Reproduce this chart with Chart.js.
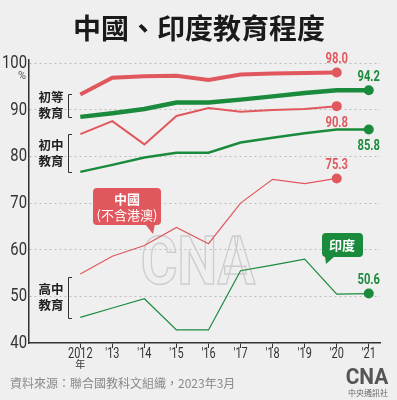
<!DOCTYPE html>
<html>
<head>
<meta charset="utf-8">
<script src="https://cdn.jsdelivr.net/npm/chart.js@4"></script>
<style>
  html, body { margin: 0; padding: 0; background: #efefef; }
  #wrap { width: 397px; height: 400px; }
</style>
</head>
<body>
<div id="wrap"><canvas id="edu-chart" width="397" height="400"></canvas></div>
<script>
// Data
const years = [2012, 2013, 2014, 2015, 2016, 2017, 2018, 2019, 2020, 2021];
const chinaPrimary = [93.3, 96.9, 97.2, 97.3, 96.4, 97.6, 97.8, 97.9, 98.0];
const chinaLower = [84.8, 87.6, 82.6, 88.7, 90.4, 89.6, 90.0, 90.2, 90.8];
const chinaUpper = [54.8, 58.6, 60.9, 64.8, 61.3, 70.0, 75.1, 74.2, 75.3];
const indiaPrimary = [88.5, 89.3, 90.2, 91.6, 91.6, 92.2, 92.9, 93.6, 94.2, 94.2];
const indiaLower = [76.7, 78.2, 79.8, 80.8, 80.8, 83.0, 84.0, 85.0, 85.8, 85.8];
const indiaUpper = [45.5, 47.5, 49.5, 42.8, 42.8, 55.5, 56.7, 58.0, 50.5, 50.6];
const yTicks = [40, 50, 60, 70, 80, 90, 100];

const RED = '#e0585d';
const GREEN = '#1a8a3c';
const SANS = '"Roboto", "Liberation Sans", sans-serif';
const CJK = '"Noto Sans CJK TC", "Noto Sans CJK SC", sans-serif';

function toPoints(vals) {
  return vals.map((v, i) => ({ x: years[i], y: v }));
}

function series(vals, color, width) {
  return {
    data: toPoints(vals),
    borderColor: color,
    backgroundColor: color,
    borderWidth: width,
    pointRadius: ctx => ctx.dataIndex === vals.length - 1 ? 5 : 0,
    pointHoverRadius: 0,
    pointBorderWidth: 0,
    tension: 0,
    fill: false
  };
}

// squeezed text, the reference uses a condensed face
function narrowText(c, text, x, y, sx) {
  c.save();
  c.translate(x, y);
  c.scale(sx, 1);
  c.fillText(text, 0, 0);
  c.restore();
}

// [datasetIndex, dy, colour]
const endLabels = [
  [0, -13, RED], [1, 17, RED], [2, -13, RED],
  [3, -13, GREEN], [4, 17, GREEN], [5, -13, GREEN]
];

const decorPlugin = {
  id: 'decor',
  beforeDatasetsDraw(chart) {
    const c = chart.ctx;
    // centre watermark
    c.save();
    c.font = 'bold 66px ' + SANS;
    c.strokeStyle = '#cdcdcd';
    c.lineWidth = 1.5;
    c.textAlign = 'center';
    c.textBaseline = 'middle';
    c.translate(198, 267);
    c.scale(0.85, 1);
    c.strokeText('CNA', 0, 0);
    c.restore();
  },
  afterDraw(chart) {
    const c = chart.ctx;
    const xs = chart.scales.x;
    const ys = chart.scales.y;
    c.save();
    // title
    c.fillStyle = '#1a1a1a';
    c.font = 'bold 28px ' + CJK;
    c.textAlign = 'center';
    c.textBaseline = 'middle';
    c.fillText('中國、印度教育程度', 199, 28);

    // y tick labels
    c.textAlign = 'right';
    c.fillStyle = '#333';
    c.font = '19px ' + SANS;
    yTicks.forEach(v => narrowText(c, String(v), 27, ys.getPixelForValue(v), 0.78));
    c.textAlign = 'center';
    c.font = '11px ' + SANS;
    c.fillStyle = '#555';
    c.fillText('%', 22, 76);

    // x tick labels
    c.fillStyle = '#333';
    years.forEach(v => {
      const px = xs.getPixelForValue(v);
      c.font = '14px ' + SANS;
      narrowText(c, v === 2012 ? '2012' : "'" + String(v).slice(2), px, 354, 0.78);
      if (v === 2012) {
        c.font = '10px ' + CJK;
        c.fillText('年', px, 364);
      }
    });

    // bracket labels
    const groups = [
      ['初等', '教育', 94, 117],
      ['初中', '教育', 134, 172],
      ['高中', '教育', 277, 318]
    ];
    c.font = 'bold 12.5px ' + CJK;
    c.fillStyle = '#222';
    groups.forEach(g => {
      const mid = (g[2] + g[3]) / 2;
      c.fillText(g[0], 51, mid - 8);
      c.fillText(g[1], 51, mid + 8);
      c.strokeStyle = '#333';
      c.lineWidth = 1;
      c.beginPath();
      c.moveTo(72, g[2] + 0.5);
      c.lineTo(68.5, g[2] + 0.5);
      c.lineTo(68.5, g[3] + 0.5);
      c.lineTo(72, g[3] + 0.5);
      c.stroke();
    });

    // end value labels
    c.font = 'bold 14px ' + SANS;
    endLabels.forEach(([di, dy, col]) => {
      const meta = chart.getDatasetMeta(di);
      const pt = meta.data[meta.data.length - 1];
      const val = chart.data.datasets[di].data[meta.data.length - 1].y;
      c.fillStyle = col;
      narrowText(c, val.toFixed(1), pt.x, pt.y + dy, 0.8);
    });

    // callouts
    function bubble(x, y, w, h, tx, ty, tipX, col) {
      c.fillStyle = col;
      c.beginPath();
      c.roundRect(x, y, w, h, 4);
      c.fill();
      c.beginPath();
      c.moveTo(tx - 5, y + h - 1);
      c.lineTo(tx + 5, y + h - 1);
      c.lineTo(tipX, ty);
      c.closePath();
      c.fill();
    }
    bubble(93, 188, 68, 37, 150, 234, 153, RED);
    bubble(322, 233, 41, 24, 330, 264, 326, GREEN);
    c.fillStyle = '#fff';
    c.font = 'bold 13px ' + CJK;
    c.fillText('中國', 127, 199);
    c.font = '13px ' + CJK;
    c.fillText('(不含港澳)', 127, 215);
    c.font = 'bold 13px ' + CJK;
    c.fillText('印度', 342, 245);

    // source
    c.textAlign = 'left';
    c.font = '12px ' + CJK;
    c.fillStyle = '#8a8a8a';
    c.fillText('資料來源：聯合國教科文組織，2023年3月', 10, 383);

    // logo
    c.textAlign = 'center';
    c.font = 'bold 22px ' + SANS;
    c.fillStyle = '#555';
    narrowText(c, 'CNA', 367, 378, 0.95);
    c.font = '8px ' + CJK;
    c.fillStyle = '#666';
    c.fillText('中央通訊社', 368, 393);
    c.restore();
  }
};

new Chart(document.getElementById('edu-chart'), {
  type: 'line',
  data: {
    datasets: [
      series(chinaPrimary, RED, 4),
      series(chinaLower, RED, 2),
      series(chinaUpper, RED, 1.2),
      series(indiaPrimary, GREEN, 4.5),
      series(indiaLower, GREEN, 2.5),
      series(indiaUpper, GREEN, 1.2)
    ]
  },
  options: {
    responsive: false,
    animation: false,
    layout: { padding: { top: 60, right: 17, bottom: 12, left: 0 } },
    plugins: {
      legend: { display: false },
      tooltip: { enabled: false },
      title: { display: false }
    },
    scales: {
      x: {
        type: 'linear',
        min: 2010.4,
        max: 2021.35,
        afterBuildTicks: s => { s.ticks = years.map(v => ({ value: v })); },
        afterFit: s => { s.height = 45; },
        border: { display: true, color: '#333', width: 1.5 },
        grid: { drawOnChartArea: false, drawTicks: true, tickLength: 5, color: '#333', lineWidth: 1 },
        ticks: { color: 'rgba(0,0,0,0)', font: { size: 12 }, maxRotation: 0 }
      },
      y: {
        min: 40,
        max: 100.7,
        afterBuildTicks: s => { s.ticks = yTicks.map(v => ({ value: v })); },
        afterFit: s => { s.width = 29; },
        border: { display: true, color: '#333', width: 1.5, dash: [2, 3] },
        grid: {
          drawTicks: false,
          color: ctx => ctx.tick && ctx.tick.value === 40 ? 'rgba(0,0,0,0)' : '#bdbdbd',
          lineWidth: 1
        },
        ticks: { color: 'rgba(0,0,0,0)', font: { size: 12 } }
      }
    }
  },
  plugins: [decorPlugin]
});
</script>
</body>
</html>
